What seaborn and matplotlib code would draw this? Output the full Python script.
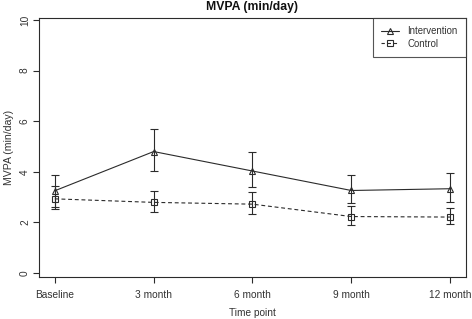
import matplotlib
matplotlib.use("Agg")
import matplotlib.pyplot as plt
from matplotlib.lines import Line2D
import seaborn as sns
import pandas as pd
import numpy as np

timepoints = ["Baseline", "3 month", "6 month", "9 month", "12 month"]
intervention_mean = [3.25, 4.80, 4.03, 3.26, 3.33]
intervention_low = [2.62, 4.02, 3.41, 2.75, 2.79]
intervention_high = [3.87, 5.71, 4.79, 3.88, 3.96]
control_mean = [2.93, 2.79, 2.72, 2.23, 2.21]
control_low = [2.52, 2.40, 2.32, 1.90, 1.92]
control_high = [3.45, 3.25, 3.19, 2.66, 2.56]
y_ticks = [0, 2, 4, 6, 8, 10]

sns.set_theme(style="ticks")
plt.rcParams["font.family"] = ["Liberation Sans", "DejaVu Sans"]

ink = "#2b2b2b"
text_c = "#333333"

x = np.arange(len(timepoints))
df = pd.DataFrame({
    "pos": np.concatenate([x, x]),
    "value": intervention_mean + control_mean,
    "group": ["Intervention"] * len(x) + ["Control"] * len(x),
})

fig = plt.figure(figsize=(4.72, 3.19), dpi=100)
ax = fig.add_axes([39 / 472, 1 - 277 / 319, (466 - 39) / 472, (277 - 18) / 319])

sns.lineplot(data=df, x="pos", y="value", hue="group", style="group",
             palette={"Intervention": ink, "Control": ink},
             dashes={"Intervention": (None, None), "Control": (3.5, 2.5)},
             markers={"Intervention": "^", "Control": "s"},
             markersize=4.4, markerfacecolor="none", markeredgecolor=ink,
             markeredgewidth=0.8, linewidth=0.8, ax=ax, legend=False)

for m, lo, hi in [(intervention_mean, intervention_low, intervention_high),
                  (control_mean, control_low, control_high)]:
    m = np.array(m)
    ax.errorbar(x, m, yerr=[m - np.array(lo), np.array(hi) - m], fmt="none",
                ecolor=ink, elinewidth=0.8, capsize=3, capthick=0.8)

ax.set_xlim(-0.16, 4.16)
ax.set_ylim(-0.16, 10.08)
ax.set_xticks(x)
ax.set_xticklabels(timepoints)
ax.set_yticks(y_ticks)
ax.set_yticklabels([str(v) for v in y_ticks], rotation=90, va="center")
ax.tick_params(axis="both", direction="out", length=4.5, width=0.8,
               color=ink, labelcolor=text_c, labelsize=7.3)
ax.tick_params(axis="x", pad=5)
ax.tick_params(axis="y", pad=2)
for s in ax.spines.values():
    s.set_visible(True)
    s.set_color(ink)
    s.set_linewidth(0.8)

ax.set_xlabel("Time point", fontsize=7.3, color=text_c, labelpad=5.5)
ax.set_ylabel("MVPA (min/day)", fontsize=7.6, color=text_c, labelpad=4)
ax.set_title("MVPA (min/day)", fontsize=8.8, fontweight="bold", color="#111111", pad=6)

handles = [
    Line2D([], [], color=ink, linestyle="-", linewidth=0.8, marker="^",
           markersize=4.2, markerfacecolor="none", markeredgecolor=ink, markeredgewidth=0.8),
    Line2D([], [], color=ink, linestyle=(0, (3, 2.5)), linewidth=0.8, marker="s",
           markersize=4.2, markerfacecolor="none", markeredgecolor=ink, markeredgewidth=0.8),
]
leg = ax.legend(handles, ["Intervention", "Control"], loc="upper right",
                borderaxespad=0, fontsize=6.9, frameon=True, fancybox=False,
                handlelength=1.9, handletextpad=0.9, labelspacing=0.25,
                borderpad=0.85, labelcolor=text_c)
leg.get_frame().set_edgecolor(ink)
leg.get_frame().set_linewidth(0.8)

fig.savefig("out.png", dpi=100)
